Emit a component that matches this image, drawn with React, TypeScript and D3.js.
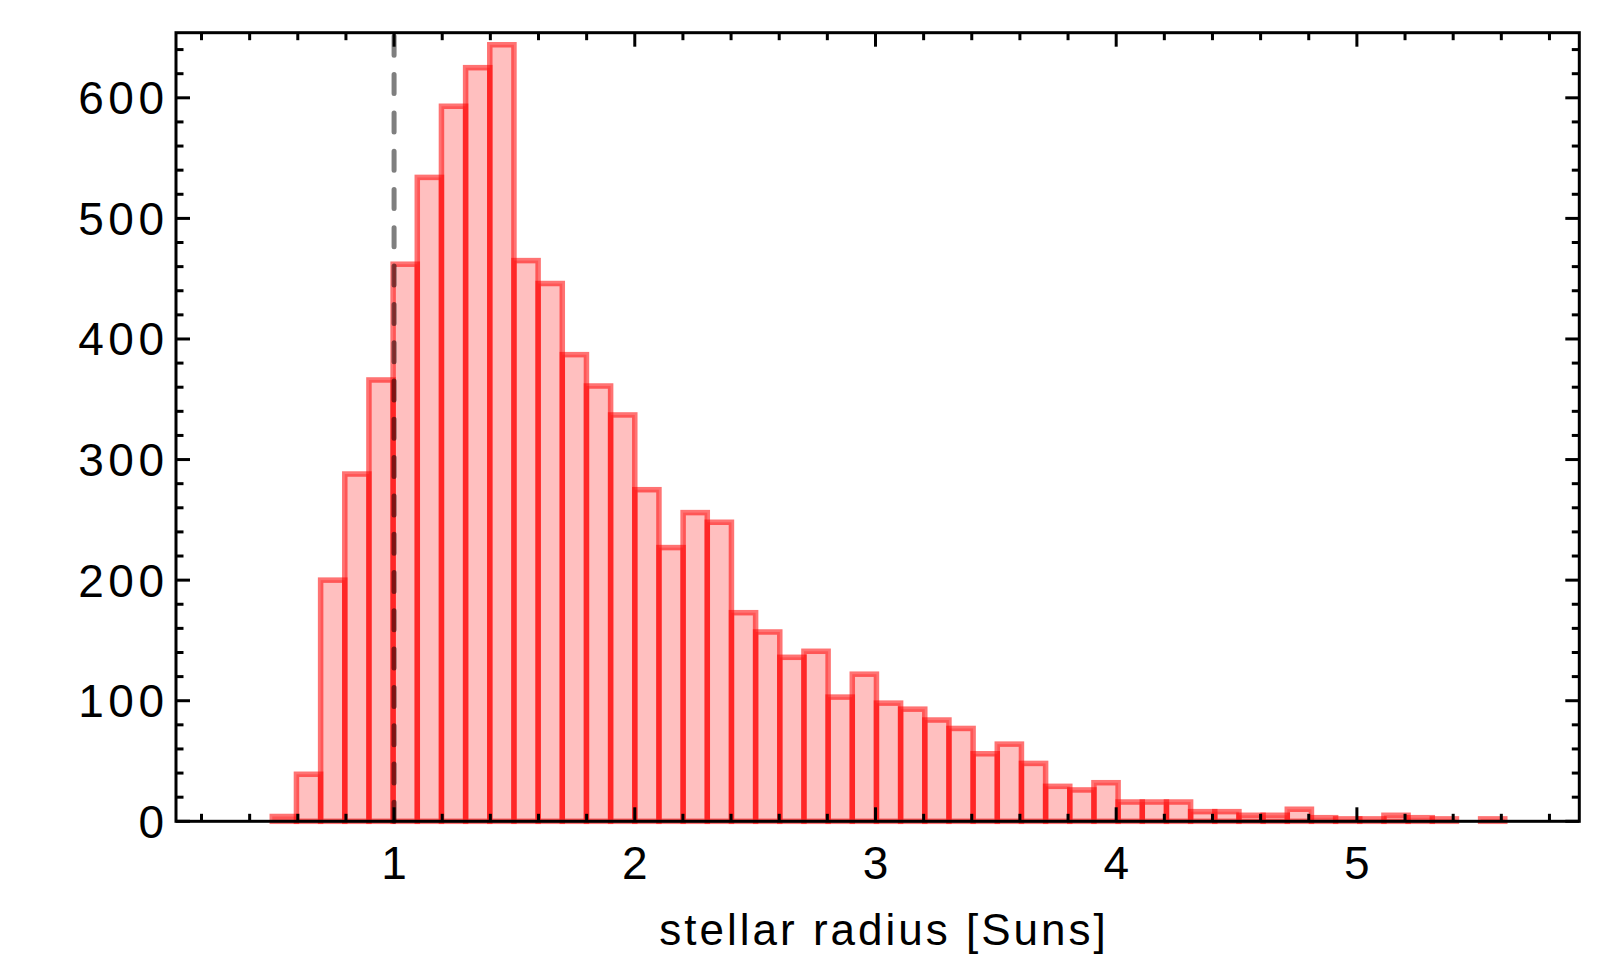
import * as d3 from 'd3';

const WIDTH = 1611;
const HEIGHT = 967;
const PLOT = { left: 176, right: 1579.3, top: 32.7, bottom: 821.3 };

// histogram of stellar radii: 51 bins starting at BIN_START
const BIN_START = 0.494;
const BIN_WIDTH = 0.1004;
const COUNTS = [
  4, 39, 200, 288, 366, 462, 534, 593, 625, 644,
  465, 446, 387, 361, 337, 275, 227, 256, 248, 173,
  157, 136, 141, 103, 122, 98, 93, 84, 77, 56,
  64, 48, 29, 26, 32, 16, 16, 16, 8, 8,
  5, 5, 10, 3, 2, 2, 5, 3, 2, 0,
  2,
];

const X_DOMAIN = [0.094, 5.924];
const Y_DOMAIN = [0, 654];
const X_TICKS = [1, 2, 3, 4, 5];
const Y_TICKS = [0, 100, 200, 300, 400, 500, 600];
const SUN_RADIUS = 1;
const X_LABEL = 'stellar radius [Suns]';

const FONT = '"Liberation Sans", Arial, Helvetica, sans-serif';

export default function App() {
  const x = d3.scaleLinear().domain(X_DOMAIN).range([PLOT.left, PLOT.right]);
  const y = d3.scaleLinear().domain(Y_DOMAIN).range([PLOT.bottom, PLOT.top]);

  const bins = COUNTS.map((c, i) => ({
    x0: BIN_START + i * BIN_WIDTH,
    x1: BIN_START + (i + 1) * BIN_WIDTH,
    count: c,
  }));

  const xMinor = d3.range(0.2, 5.9, 0.2).filter((v) => Math.abs(v - Math.round(v)) > 1e-6);
  const yMinor = d3.range(20, 654, 20).filter((v) => v % 100 !== 0);

  const MAJOR = 14;
  const MINOR = 7.5;
  const tickStyle = { stroke: '#000', strokeWidth: 3 };
  const tickSpacing = 4.5;

  return (
    <svg
      width={WIDTH}
      height={HEIGHT}
      style={{ position: 'absolute', left: 0, top: 0, background: '#fff' }}
      fontFamily={FONT}
    >
      {/* bars */}
      <g>
        {bins
          .filter((b) => b.count > 0)
          .map((b, i) => (
            <rect
              key={i}
              x={x(b.x0)}
              y={y(b.count)}
              width={x(b.x1) - x(b.x0)}
              height={y(0) - y(b.count)}
              fill="rgba(255,0,0,0.25)"
              stroke="rgba(255,0,0,0.55)"
              strokeWidth={5.5}
            />
          ))}
      </g>

      {/* solar radius marker */}
      <path
        d={`M${x(SUN_RADIUS)},${y(0)}V${y(Y_DOMAIN[1])}`}
        stroke="#000"
        strokeOpacity={0.5}
        strokeWidth={5}
        strokeDasharray="19 19.3"
        strokeLinecap="round"
        fill="none"
      />

      {/* ticks, inward on all four sides */}
      <g>
        {X_TICKS.map((t) => (
          <g key={'xM' + t}>
            <line x1={x(t)} x2={x(t)} y1={PLOT.bottom} y2={PLOT.bottom - MAJOR} {...tickStyle} />
            <line x1={x(t)} x2={x(t)} y1={PLOT.top} y2={PLOT.top + MAJOR} {...tickStyle} />
          </g>
        ))}
        {xMinor.map((t) => (
          <g key={'xm' + t}>
            <line x1={x(t)} x2={x(t)} y1={PLOT.bottom} y2={PLOT.bottom - MINOR} {...tickStyle} />
            <line x1={x(t)} x2={x(t)} y1={PLOT.top} y2={PLOT.top + MINOR} {...tickStyle} />
          </g>
        ))}
        {Y_TICKS.map((t) => (
          <g key={'yM' + t}>
            <line x1={PLOT.left} x2={PLOT.left + MAJOR} y1={y(t)} y2={y(t)} {...tickStyle} />
            <line x1={PLOT.right} x2={PLOT.right - MAJOR} y1={y(t)} y2={y(t)} {...tickStyle} />
          </g>
        ))}
        {yMinor.map((t) => (
          <g key={'ym' + t}>
            <line x1={PLOT.left} x2={PLOT.left + MINOR} y1={y(t)} y2={y(t)} {...tickStyle} />
            <line x1={PLOT.right} x2={PLOT.right - MINOR} y1={y(t)} y2={y(t)} {...tickStyle} />
          </g>
        ))}
      </g>

      {/* frame */}
      <rect
        x={PLOT.left}
        y={PLOT.top}
        width={PLOT.right - PLOT.left}
        height={PLOT.bottom - PLOT.top}
        fill="none"
        stroke="#000"
        strokeWidth={3}
      />

      {/* tick labels */}
      <g fontSize={46} letterSpacing={tickSpacing} fill="#000">
        {X_TICKS.map((t) => (
          <text key={'xl' + t} x={x(t) + tickSpacing / 2} y={879} textAnchor="middle">
            {t}
          </text>
        ))}
        {Y_TICKS.map((t) => (
          <text key={'yl' + t} x={164 + tickSpacing} y={y(t) + 16.5} textAnchor="end">
            {t}
          </text>
        ))}
      </g>
      <text x={882.5 + 1.5} y={945} textAnchor="middle" fontSize={44} letterSpacing={3} fill="#000">
        {X_LABEL}
      </text>
    </svg>
  );
}
